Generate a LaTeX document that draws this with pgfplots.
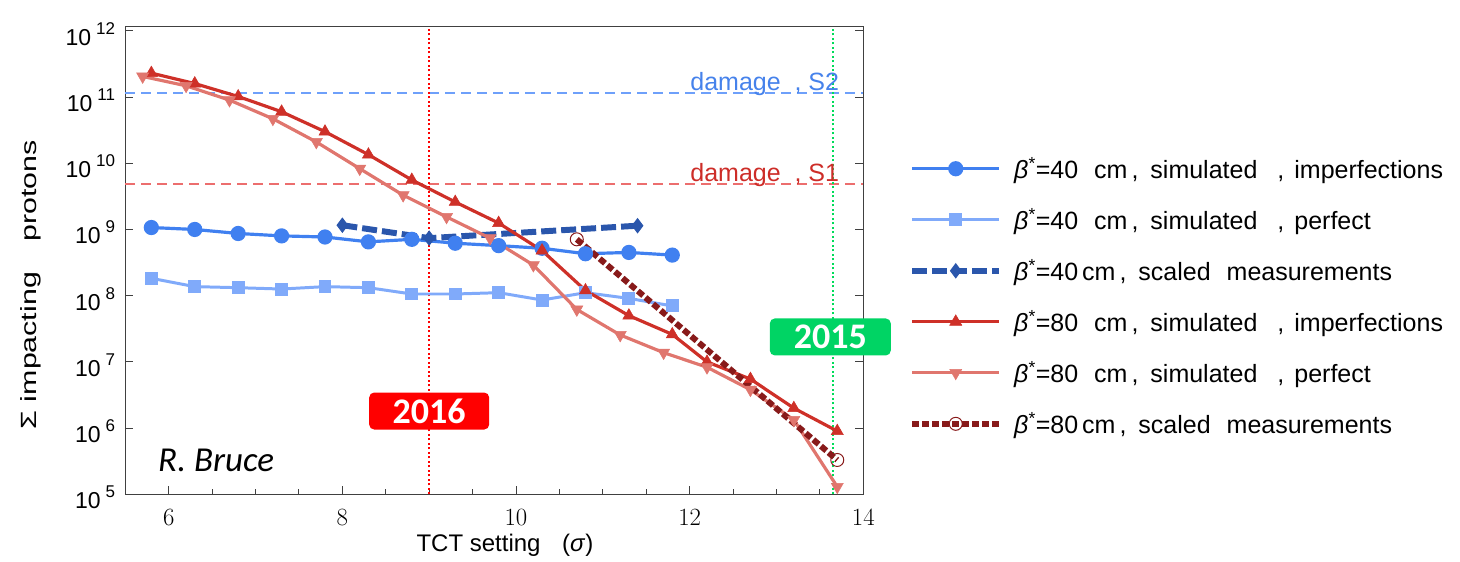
\documentclass[border=0pt]{standalone}
\usepackage{pgfplots}
\pgfplotsset{compat=1.18}
\usepackage{fontspec}
\setmainfont{Liberation Sans}
\newfontfamily\calfont{Carlito}
\definecolor{cA}{RGB}{64,128,240}
\definecolor{cB}{RGB}{128,170,250}
\definecolor{cC}{RGB}{42,86,172}
\definecolor{cD}{RGB}{206,48,40}
\definecolor{cE}{RGB}{224,118,110}
\definecolor{cF}{RGB}{136,26,26}
\definecolor{dmgB}{RGB}{110,160,250}
\definecolor{dmgBt}{RGB}{70,130,235}
\definecolor{dmgR}{RGB}{236,110,110}
\definecolor{dmgRt}{RGB}{205,45,40}
\definecolor{g15}{RGB}{0,212,100}
\definecolor{vgreen}{RGB}{0,220,90}
\newcommand{\yexp}[1]{10\hspace{5bp}\raisebox{11bp}{\fontsize{17bp}{17bp}\selectfont #1}}
\newcommand{\bst}{\textit{β}\textsuperscript{*}}
\newcommand{\legtxt}[3]{\bst=#1\hspace{#2}cm\hspace{4bp},\hspace{12bp}#3}

\pgfplotstableread{
x y
5.8 1.07e9
6.3 1.0e9
6.8 8.7e8
7.3 8.0e8
7.8 7.7e8
8.3 6.5e8
8.8 7.1e8
9.3 6.2e8
9.8 5.7e8
10.3 5.2e8
10.8 4.3e8
11.3 4.5e8
11.8 4.1e8
}\tabA
\pgfplotstableread{
x y
5.8 1.83e8
6.3 1.37e8
6.8 1.32e8
7.3 1.26e8
7.8 1.37e8
8.3 1.32e8
8.8 1.06e8
9.3 1.06e8
9.8 1.11e8
10.3 8.6e7
10.8 1.11e8
11.3 9.1e7
11.8 7.0e7
}\tabB
\pgfplotstableread{
x y
8.0 1.16e9
9.0 7.4e8
11.4 1.14e9
}\tabC
\pgfplotstableread{
x y
5.8 2.3e11
6.3 1.6e11
6.8 1.02e11
7.3 6.0e10
7.8 3.0e10
8.3 1.35e10
8.8 5.6e9
9.3 2.6e9
9.8 1.25e9
10.3 4.8e8
10.8 1.2e8
11.3 5.0e7
11.8 2.6e7
12.2 1.0e7
12.7 5.5e6
13.2 2.0e6
13.7 9.0e5
}\tabD
\pgfplotstableread{
x y
5.7 2.05e11
6.2 1.48e11
6.7 9.0e10
7.2 4.7e10
7.7 2.1e10
8.2 8.3e9
8.7 3.3e9
9.2 1.55e9
9.7 7.4e8
10.2 2.9e8
10.7 6.2e7
11.2 2.55e7
11.7 1.38e7
12.2 8.3e6
12.7 3.8e6
13.2 1.33e6
13.7 1.3e5
}\tabE
\pgfplotstableread{
x y
10.7 7.1e8
13.7 3.3e5
}\tabF

\begin{document}
\begin{tikzpicture}
\begin{axis}[
  scale only axis, width=738bp, height=467.6bp,
  xmin=5.5, xmax=14, ymode=log, ymin=1e5, ymax=1.156e12,
  axis line style={black!75, line width=1pt},
  xtick={6,8,10,12,14}, minor xtick={6.5,7,...,13.5},
  ytick={1e5,1e6,1e7,1e8,1e9,1e10,1e11,1e12},
  yticklabels={\yexp{5},\yexp{6},\yexp{7},\yexp{8},\yexp{9},\yexp{10},\yexp{11},\yexp{12}},
  yminorticks=false,
  tick align=inside, xtick pos=bottom, ytick pos=both,
  major tick length=8bp, minor tick length=5bp,
  tick style={black!75, line width=1pt},
  xticklabel style={font=\fontsize{23bp}{23bp}\selectfont, anchor=north, inner sep=0pt, yshift=-15bp},
  yticklabel style={font=\fontsize{23bp}{23bp}\selectfont, anchor=east, inner sep=0pt, xshift=-10bp, yshift=-3bp},
  xlabel={TCT setting\hspace{0.9em}(\textit{σ})},
  xlabel style={font=\fontsize{24bp}{24bp}\selectfont, at={(axis description cs:0.5145,-0.1084)}, anchor=center},
  ylabel={\scalebox{1.38}[1]{Σ impacting\hspace{1em}protons}},
  ylabel style={font=\fontsize{22bp}{22bp}\selectfont, at={(axis description cs:-0.1274,0.448)}, anchor=center, rotate=0},
  legend style={draw=none, fill=none, at={(rel axis cs:1.062,0.725)}, anchor=north west,
    font=\fontsize{25bp}{28bp}\selectfont, row sep=24.5bp, inner sep=0pt,
    /tikz/every odd column/.append style={column sep=10bp}},
  legend cell align=left,
  legend image code/.code={\draw[mark repeat=2,mark phase=2,#1] plot coordinates {(0bp,0bp) (43.5bp,0bp) (87bp,0bp)};},
  clip=false,
]
% reference lines
\addplot[forget plot, color=dmgB, line width=1.8pt, dash pattern=on 10bp off 6bp] coordinates {(5.5,1.14e11) (14,1.14e11)};
\addplot[forget plot, color=dmgR, line width=1.6pt, dash pattern=on 10bp off 6bp] coordinates {(5.5,4.9e9) (14,4.9e9)};
\addplot[forget plot, color=red, line width=2pt, dash pattern=on 2bp off 2.5bp] coordinates {(9,1e5) (9,1.156e12)};
\addplot[forget plot, color=vgreen, line width=2pt, dash pattern=on 2bp off 2.5bp] coordinates {(13.65,1e5) (13.65,1.156e12)};
% series
\addplot[color=cA, line width=3.2pt, mark=*, mark size=6bp, mark options={solid}] table[x=x,y=y] {\tabA};
\addlegendentry{\legtxt{40}{16bp}{simulated\hspace{20bp},\hspace{10bp}imperfections}}
\addplot[color=cB, line width=3pt, mark=square*, mark size=5bp, mark options={solid}] table[x=x,y=y] {\tabB};
\addlegendentry{\legtxt{40}{16bp}{simulated\hspace{20bp},\hspace{10bp}perfect}}
\addplot[color=cC, line width=6pt, dash pattern=on 15bp off 5bp, mark=diamond*, mark size=7bp, mark options={solid, line width=1pt}] table[x=x,y=y] {\tabC};
\addlegendentry{\legtxt{40}{4bp}{scaled\hspace{16bp}measurements}}
\addplot[color=cD, line width=3.2pt, mark=triangle*, mark size=7bp, mark options={solid, line width=0.5pt}] table[x=x,y=y] {\tabD};
\addlegendentry{\legtxt{80}{16bp}{simulated\hspace{20bp},\hspace{10bp}imperfections}}
\addplot[color=cE, line width=3.2pt, mark=triangle*, mark size=7bp, mark options={solid, rotate=180, line width=0.5pt}] table[x=x,y=y] {\tabE};
\addlegendentry{\legtxt{80}{16bp}{simulated\hspace{20bp},\hspace{10bp}perfect}}
\addplot[color=cF, line width=6pt, dash pattern=on 7bp off 3bp, mark=o, mark size=6.5bp, mark options={solid, line width=1pt, fill=white}] table[x=x,y=y] {\tabF};
\addlegendentry{\legtxt{80}{4bp}{scaled\hspace{16bp}measurements}}
% texts
\node[anchor=base west, text=dmgBt, font=\fontsize{25bp}{25bp}\selectfont, inner sep=0pt] at (axis cs:12.006,1.25e11) {damage\ \ ,\ S2};
\node[anchor=base west, text=dmgRt, font=\fontsize{25bp}{25bp}\selectfont, inner sep=0pt] at (axis cs:12.006,5.27e9) {damage\ \ ,\ S1};
\node[fill=red, rounded corners=5bp, text=white, font=\calfont\bfseries\fontsize{36bp}{36bp}\selectfont, minimum width=120bp, minimum height=37bp, inner sep=0pt] at (axis cs:9,1.81e6) {2016};
\node[fill=g15, rounded corners=5bp, text=white, font=\calfont\bfseries\fontsize{36bp}{36bp}\selectfont, minimum width=121bp, minimum height=37bp, inner sep=0pt] at (axis cs:13.62,2.38e7) {2015};
\node[anchor=base west, font=\calfont\itshape\fontsize{35bp}{35bp}\selectfont, inner sep=0pt] at (rel axis cs:0.0443,0.0483) {R. Bruce};
\end{axis}
\useasboundingbox (-125.3bp,-67.7bp) rectangle (1334.7bp,494.3bp);
\end{tikzpicture}
\end{document}
